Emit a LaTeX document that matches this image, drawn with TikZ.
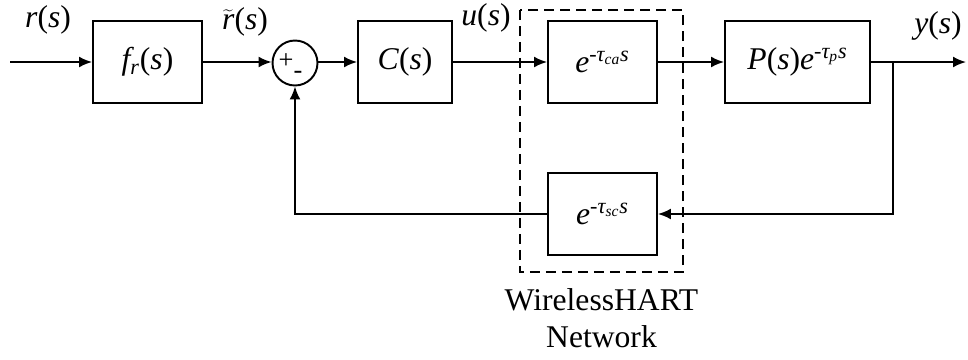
\documentclass[tikz,border=0pt]{standalone}
\usepackage{fontspec}
\setmainfont{LiberationSerif}[Extension=.ttf,UprightFont=*-Regular,ItalicFont=*-Italic,BoldFont=*-Bold,BoldItalicFont=*-BoldItalic]
\usetikzlibrary{arrows.meta}
\tikzset{block/.style={draw,line width=1.1pt,inner sep=0pt,minimum height=1.64cm},
  signal/.style={line width=1.1pt,-{Latex[length=2.6mm,width=2.2mm]}},
  network/.style={line width=1.1pt,dash pattern=on 0.2cm off 0.12cm}}
\newcommand{\delay}[1]{\textit{e}\textsuperscript{-\textit{τ\textsubscript{#1}s}}}

\begin{document}
\begin{tikzpicture}[x=0.02cm,y=-0.02cm,font=\fontsize{18}{21}\selectfont]
        \useasboundingbox (0,0) rectangle (968,359);
        \node[block,minimum width=2.18cm] (fr) at (147.5,62) {\textit{f\textsubscript{r}}(\textit{s})};
        \node[draw,circle,line width=1.1pt,minimum size=0.9cm,inner sep=0pt] (sum) at (295,63) {};
        \node[font=\fontsize{15}{15}\selectfont,inner sep=0pt] (plus) at (286,61) {+};
        \node[font=\fontsize{15}{15}\selectfont,inner sep=0pt] (minus) at (298,75) {-};
        \node[block,minimum width=1.88cm] (c) at (405,62) {\textit{C}(\textit{s})};
        \node[block,minimum width=2.18cm] (ca) at (602.5,62) {\delay{ca}};
        \node[block,minimum width=2.9cm] (p) at (797.5,62) {\textit{P}(\textit{s})\delay{p}};
        \node[block,minimum width=2.18cm] (sc) at (602.5,214) {\delay{sc}};
        \coordinate (in) at (10,62);
        \coordinate (out) at (966,62);
        \coordinate (br) at (893,62);
        \draw[signal] (in) -- (fr);
        \draw[signal] (fr) -- (sum.west |- fr);
        \draw[signal] (sum.east |- c) -- (c);
        \draw[signal] (c) -- (ca);
        \draw[signal] (ca) -- (p);
        \draw[signal] (p) -- (out);
        \draw[signal] (br) |- (sc);
        \draw[signal] (sc) -| (sum);
        \draw[network] (520,10) rectangle (683,272);
        \node (rs) at (48,20) {\textit{r}(\textit{s})};
        \node (rt) at (245,22) {$\widetilde{\mbox{\textit{r}}}$(\textit{s})};
        \node (us) at (486,18) {\textit{u}(\textit{s})};
        \node (ys) at (938,26) {\textit{y}(\textit{s})};
        \node[align=center] (net) at (601.5,318) {WirelessHART\\Network};
    \end{tikzpicture}
\end{document}
